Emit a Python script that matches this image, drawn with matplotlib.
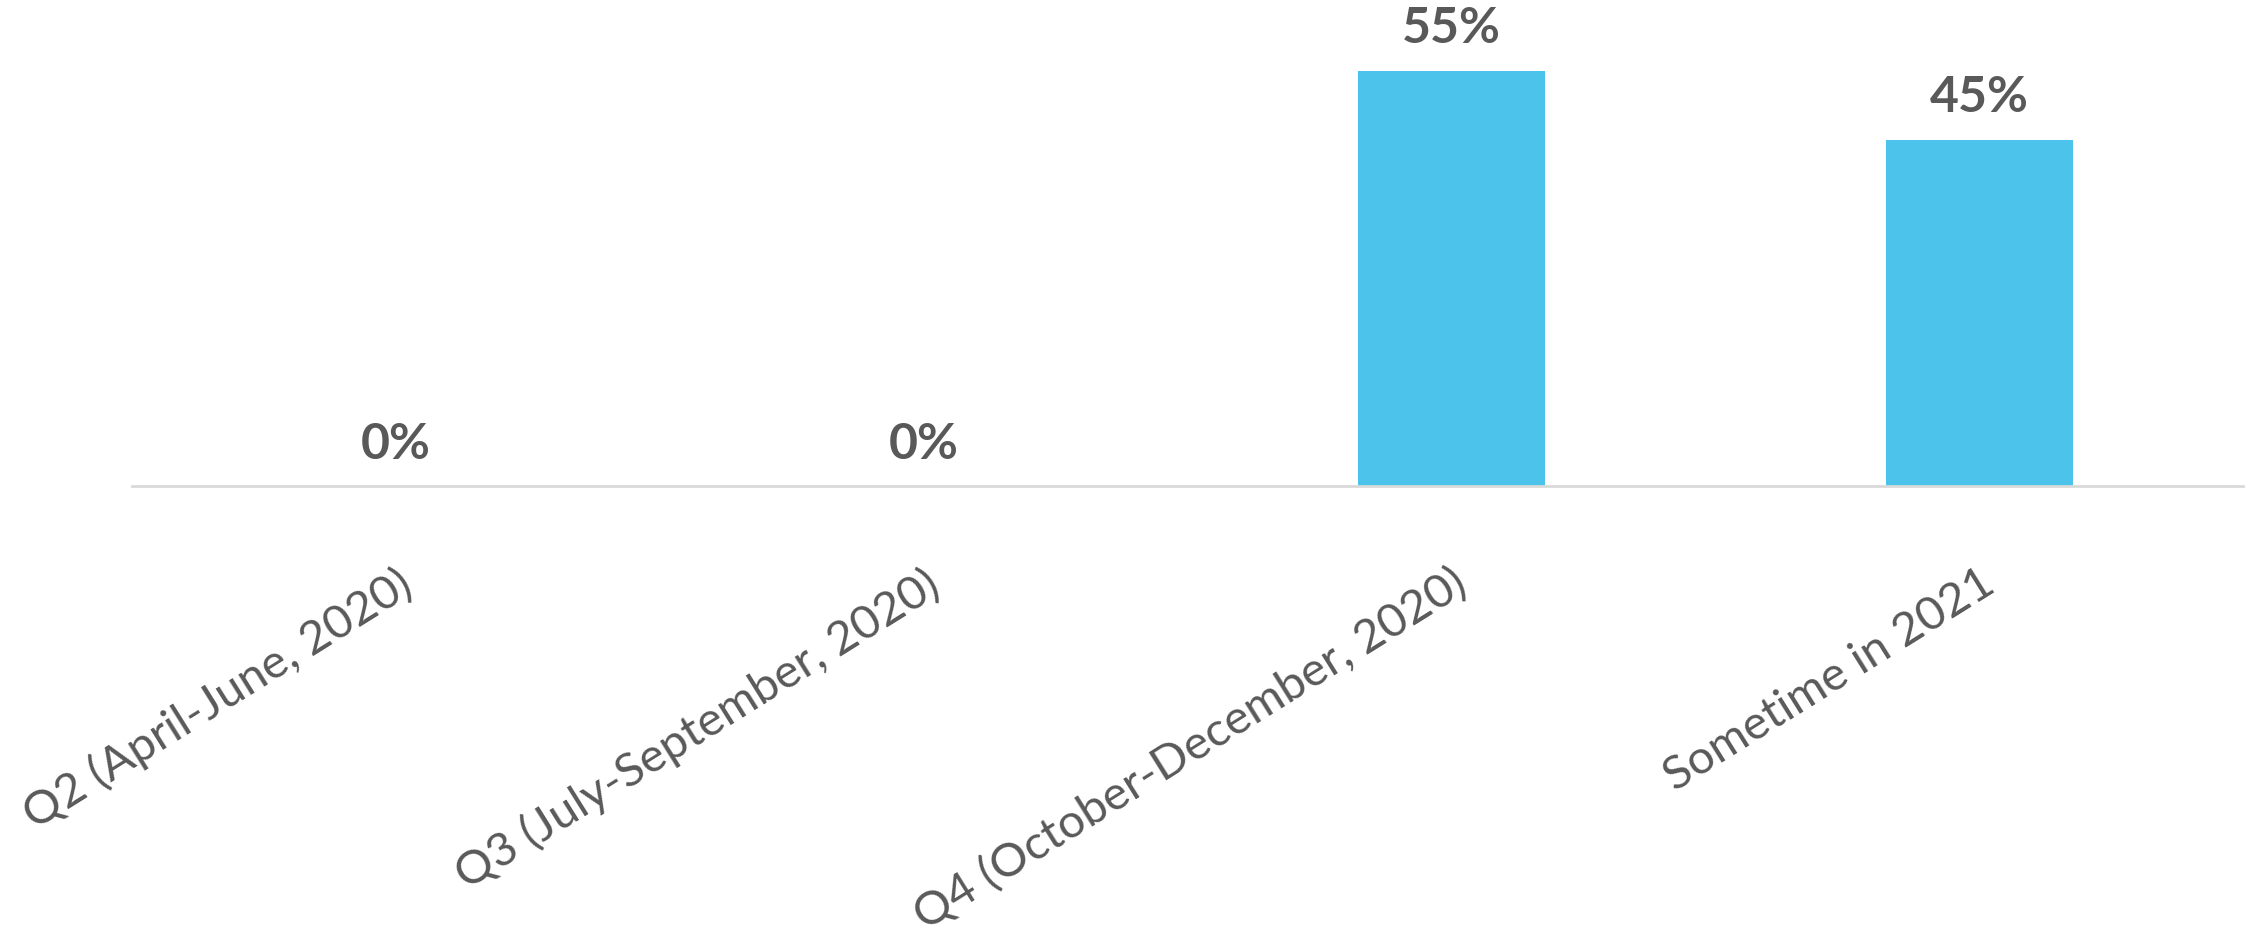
import matplotlib
matplotlib.use('Agg')
import matplotlib.pyplot as plt

# Survey answers: share of respondents per expected period
categories = ['Q2 (April-June, 2020)', 'Q3 (July-September, 2020)',
              'Q4 (October-December, 2020)', 'Sometime in 2021']
values = [0, 0, 54.5, 45.5]
value_labels = ['0%', '0%', '55%', '45%']

plt.rcParams['font.family'] = ['Lato', 'DejaVu Sans']

fig = plt.figure(figsize=(22.57, 9.39), dpi=100)
ax = fig.add_axes([0.0585, 0.4819, 0.9353, 0.5181])

x = range(len(categories))
ax.bar(x, values, width=0.354, color='#4BC3EA')

for xi, v, lab in zip(x, values, value_labels):
    ax.annotate(lab, (xi, v), xytext=(0, 14), textcoords='offset points',
                ha='center', va='bottom', fontsize=36, fontweight='bold',
                color='#595959')

ax.set_xlim(-0.5, 3.5)
ax.set_ylim(0, 63.8)
ax.set_xticks(list(x))
ax.set_xticklabels(categories, rotation=32, ha='right',
                   rotation_mode='anchor', fontsize=34, color='#595959')
ax.tick_params(axis='x', length=0, pad=54)
ax.set_yticks([])

for side in ['top', 'right', 'left']:
    ax.spines[side].set_visible(False)
ax.spines['bottom'].set_color('#D9D9D9')
ax.spines['bottom'].set_linewidth(2)

fig.savefig('out.png', dpi=100)
